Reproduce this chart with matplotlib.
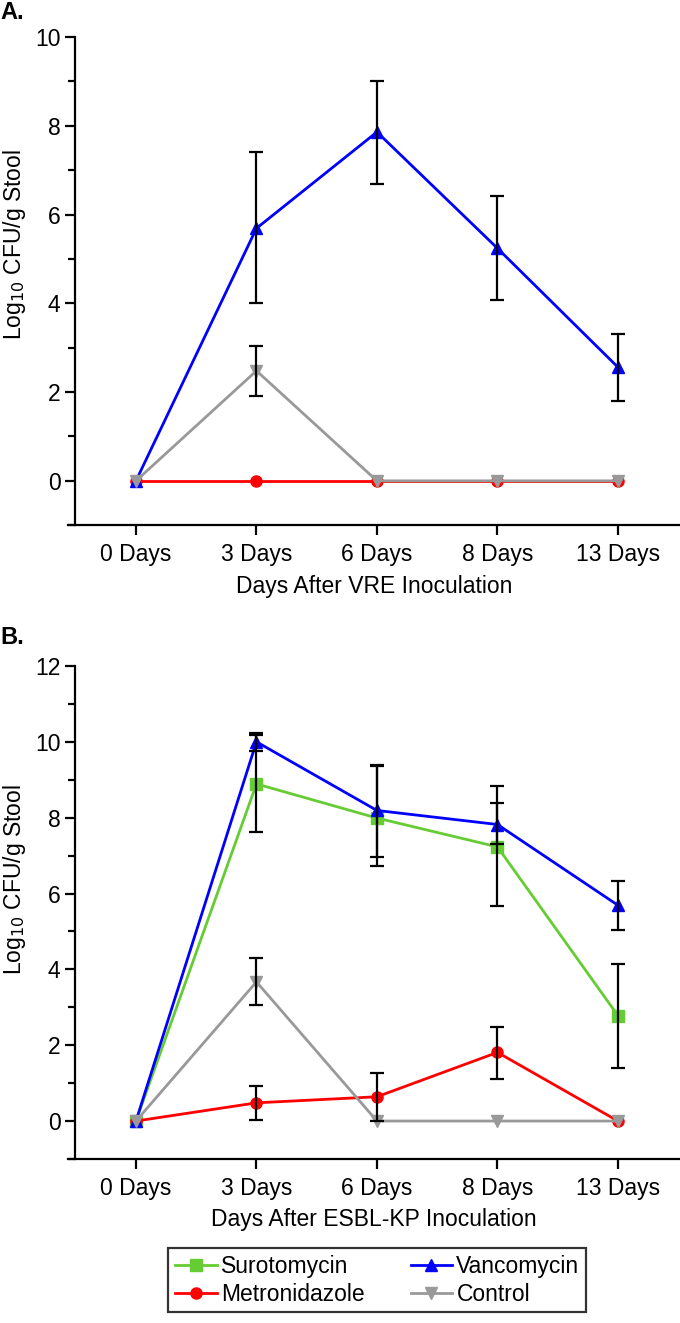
import numpy as np
import matplotlib.pyplot as plt
from matplotlib.ticker import MultipleLocator

plt.rcParams["font.family"] = ["Liberation Sans", "DejaVu Sans"]

days = ["0 Days", "3 Days", "6 Days", "8 Days", "13 Days"]

# Panel A (VRE)
a_vanc = [0, 5.69, 7.86, 5.24, 2.56]
a_vanc_lo = [0, 4.00, 6.68, 4.07, 1.80]
a_vanc_hi = [0, 7.41, 9.02, 6.42, 3.30]
a_metro = [0, 0, 0, 0, 0]
a_ctrl = [0, 2.48, 0, 0, 0]
a_ctrl_lo = [0, 1.92, 0, 0, 0]
a_ctrl_hi = [0, 3.03, 0, 0, 0]

# Panel B (ESBL-KP)
b_suro = [0, 8.89, 7.99, 7.23, 2.78]
b_suro_lo = [0, 7.61, 6.73, 5.66, 1.40]
b_suro_hi = [0, 10.18, 9.35, 8.39, 4.14]
b_metro = [0, 0.48, 0.64, 1.81, 0]
b_metro_lo = [0, 0.02, 0.01, 1.10, 0]
b_metro_hi = [0, 0.92, 1.27, 2.48, 0]
b_vanc = [0, 10.0, 8.19, 7.82, 5.69]
b_vanc_lo = [0, 9.76, 6.95, 7.30, 5.04]
b_vanc_hi = [0, 10.22, 9.40, 8.83, 6.33]
b_ctrl = [0, 3.67, 0, 0, 0]
b_ctrl_lo = [0, 3.05, 0, 0, 0]
b_ctrl_hi = [0, 4.29, 0, 0, 0]

C_SURO = "#66cc33"
C_METRO = "#ff0000"
C_VANC = "#0000ff"
C_CTRL = "#999999"

FS = 16.5


def series(ax, y, lo, hi, color, marker, label):
    x = np.arange(len(y))
    y = np.array(y, float)
    ax.plot(x, y, color=color, marker=marker, ms=8, lw=2, label=label, zorder=3)
    if lo is not None:
        lo = np.array(lo, float)
        hi = np.array(hi, float)
        m = hi > lo
        ax.errorbar(x[m], y[m], yerr=[y[m] - lo[m], hi[m] - y[m]], fmt="none",
                    ecolor="black", elinewidth=1.6, capsize=5, capthick=1.6, zorder=4)


def style(ax, ymax, xlabel):
    ax.set_xlim(-0.564, 4.515)
    ax.set_ylim(-1, ymax)
    for s in ["top", "right"]:
        ax.spines[s].set_visible(False)
    ax.spines["left"].set_position(("data", -0.506))
    ax.spines["left"].set_linewidth(1.6)
    ax.spines["bottom"].set_linewidth(1.6)
    ax.set_xticks(range(len(days)))
    ax.set_xticklabels(days)
    ax.yaxis.set_major_locator(MultipleLocator(2))
    ax.yaxis.set_minor_locator(MultipleLocator(1))
    ax.tick_params(axis="both", which="major", length=7, width=1.6, labelsize=FS)
    ax.tick_params(axis="y", which="minor", length=5, width=1.6)
    ax.tick_params(axis="x", pad=6)
    ax.set_xlabel(xlabel, fontsize=FS, labelpad=6)


fig = plt.figure(figsize=(6.8, 13.23), dpi=100)
axA = fig.add_axes([0.1, 0.603, 0.9, 0.369])
axB = fig.add_axes([0.1, 0.124, 0.9, 0.3726])

series(axA, a_metro, None, None, C_METRO, "o", "Metronidazole")
series(axA, a_vanc, a_vanc_lo, a_vanc_hi, C_VANC, "^", "Vancomycin")
series(axA, a_ctrl, a_ctrl_lo, a_ctrl_hi, C_CTRL, "v", "Control")
style(axA, 10, "Days After VRE Inoculation")

series(axB, b_suro, b_suro_lo, b_suro_hi, C_SURO, "s", "Surotomycin")
series(axB, b_metro, b_metro_lo, b_metro_hi, C_METRO, "o", "Metronidazole")
series(axB, b_vanc, b_vanc_lo, b_vanc_hi, C_VANC, "^", "Vancomycin")
series(axB, b_ctrl, b_ctrl_lo, b_ctrl_hi, C_CTRL, "v", "Control")
style(axB, 12, "Days After ESBL-KP Inoculation")

ylab = "Log$_{10}$ CFU/g Stool"
fig.text(0.022, 0.815, ylab, fontsize=FS, rotation=90, ha="center", va="center")
fig.text(0.022, 0.335, ylab, fontsize=FS, rotation=90, ha="center", va="center")

fig.text(0.0, 0.999, "A.", fontsize=17, fontweight="bold", va="top", ha="left")
fig.text(0.0, 0.527, "B.", fontsize=17, fontweight="bold", va="top", ha="left")

handles, labels = axB.get_legend_handles_labels()
leg = fig.legend(handles, labels,
                 loc="lower center", bbox_to_anchor=(0.555, 0.008), ncol=2,
                 fontsize=FS, frameon=True, fancybox=False, edgecolor="black",
                 handlelength=1.8, handletextpad=0.2, columnspacing=2.0,
                 borderpad=0.3, labelspacing=0.2, borderaxespad=0)
leg.get_frame().set_linewidth(1.6)

fig.savefig("out.png", dpi=100)
